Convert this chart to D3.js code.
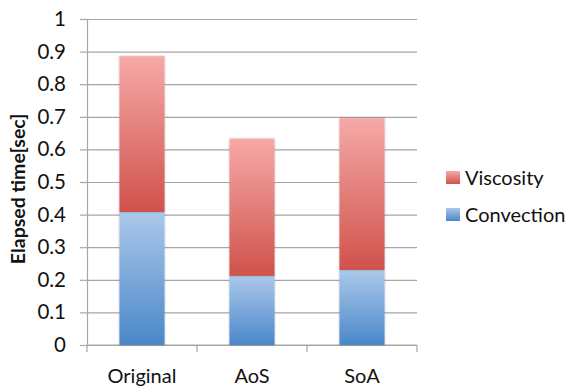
<!DOCTYPE html>
<html>
<head>
<meta charset="utf-8">
<script src="https://cdn.jsdelivr.net/npm/d3@7"></script>
<style>
  html, body { margin: 0; padding: 0; background: #fff; }
  svg { display: block; font-family: Lato, "Open Sans", sans-serif; }
</style>
</head>
<body>
<svg id="chart" width="568" height="386"></svg>
<script>
// Elapsed time per implementation, split into its two phases
const categories = ["Original", "AoS", "SoA"];
const convection = [0.408, 0.212, 0.230];
const viscosity = [0.478, 0.421, 0.466];
const seriesNames = ["Viscosity", "Convection"];
const yTicks = [0, 0.1, 0.2, 0.3, 0.4, 0.5, 0.6, 0.7, 0.8, 0.9, 1];

const svg = d3.select("#chart");
const plot = { left: 87, right: 417, top: 19, bottom: 345 };

const x = d3.scaleBand().domain(categories).range([plot.left, plot.right]).paddingInner(0.59).paddingOuter(0.295);
const y = d3.scaleLinear().domain([0, 1]).range([plot.bottom, plot.top]);

const defs = svg.append("defs");
function grad(id, c0, c1) {
  const g = defs.append("linearGradient").attr("id", id)
    .attr("x1", 0).attr("y1", 0).attr("x2", 0).attr("y2", 1);
  g.append("stop").attr("offset", "0%").attr("stop-color", c0);
  g.append("stop").attr("offset", "100%").attr("stop-color", c1);
}
grad("gVisc", "#f6a9a7", "#d0524b");
grad("gConv", "#abc8ea", "#4a87c9");
const shadow = defs.append("filter").attr("id", "shadow")
  .attr("x", "-20%").attr("y", "-5%").attr("width", "140%").attr("height", "110%");
shadow.append("feDropShadow").attr("dx", 0).attr("dy", 0).attr("stdDeviation", 1.2)
  .attr("flood-color", "#000").attr("flood-opacity", 0.25);

// Horizontal gridlines
svg.append("g")
  .attr("transform", `translate(${plot.left},0)`)
  .call(d3.axisLeft(y).tickValues(yTicks).tickSize(-(plot.right - plot.left)).tickSizeOuter(0).tickFormat(""))
  .call(g => g.select(".domain").remove())
  .call(g => g.selectAll(".tick line").attr("stroke", "#a6a6a6").attr("stroke-width", 1.2));
// Value axis with tick stubs left of the axis line
svg.append("g")
  .attr("transform", `translate(${plot.left},0)`)
  .call(d3.axisLeft(y).tickValues(yTicks).tickSize(7).tickSizeOuter(0).tickPadding(14)
    .tickFormat(d => d === 0 ? "0" : d === 1 ? "1" : d3.format(".1f")(d)))
  .call(g => g.select(".domain").attr("stroke", "#a6a6a6").attr("stroke-width", 1.2))
  .call(g => g.selectAll(".tick line").attr("stroke", "#a6a6a6").attr("stroke-width", 1.2))
  .call(g => g.selectAll("text").attr("fill", "#111").style("font-size", "20.5px")
    .style("font-family", "Lato, 'Open Sans', sans-serif"));

// Category axis: ticks at band boundaries, labels centred under bars
const xAxis = svg.append("g").attr("transform", `translate(0,${plot.bottom})`);
xAxis.append("line").attr("x1", plot.left).attr("x2", plot.right).attr("stroke", "#a6a6a6").attr("stroke-width", 1.2);
const boundaries = d3.range(categories.length + 1)
  .map(i => plot.left + i * (plot.right - plot.left) / categories.length);
xAxis.selectAll("line.tk").data(boundaries).join("line").attr("class", "tk")
  .attr("x1", d => d).attr("x2", d => d).attr("y1", 0).attr("y2", 7)
  .attr("stroke", "#a6a6a6").attr("stroke-width", 1.2);
xAxis.selectAll("text").data(categories).join("text")
  .attr("x", d => x(d) + x.bandwidth() / 2).attr("y", 38)
  .attr("text-anchor", "middle").attr("fill", "#111").style("font-size", "20px")
  .text(d => d);

// Stacked bars
const rows = categories.map((c, i) => ({ cat: c, Convection: convection[i], Viscosity: viscosity[i] }));
const stack = d3.stack().keys(["Convection", "Viscosity"])(rows);
const fills = { Convection: "url(#gConv)", Viscosity: "url(#gVisc)" };
svg.append("g").selectAll("g").data(stack).join("g")
  .attr("fill", s => fills[s.key])
  .selectAll("rect").data(s => s).join("rect")
  .attr("x", d => x(d.data.cat)).attr("width", x.bandwidth())
  .attr("y", d => y(d[1])).attr("height", d => y(d[0]) - y(d[1]))
  .attr("filter", "url(#shadow)");

// Y-axis title
svg.append("text")
  .attr("transform", `translate(25,${(plot.top + plot.bottom) / 2 + 7}) rotate(-90)`)
  .attr("text-anchor", "middle").attr("fill", "#111")
  .style("font-size", "19.5px").style("font-weight", "bold")
  .text("Elapsed time[sec]");

// Legend
const legend = svg.append("g").attr("transform", "translate(446,171)");
const lg = legend.selectAll("g").data(seriesNames).join("g")
  .attr("transform", (d, i) => `translate(0,${i * 37})`);
lg.append("rect").attr("width", 14).attr("height", 13)
  .attr("fill", d => d === "Viscosity" ? "url(#gVisc)" : "url(#gConv)");
lg.append("text").attr("x", 19).attr("y", 14).attr("fill", "#111")
  .style("font-size", "20px").text(d => d);
</script>
</body>
</html>
